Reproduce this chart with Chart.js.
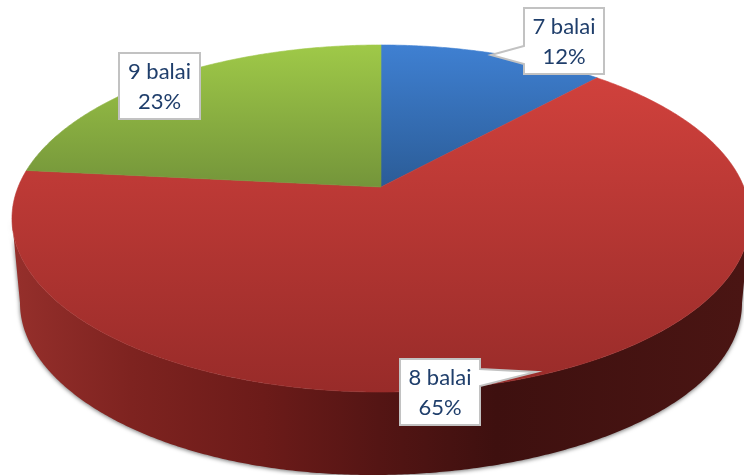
<!DOCTYPE html>
<html>
<head>
<meta charset="utf-8">
<style>
html,body{margin:0;padding:0;background:#fff;overflow:hidden}
canvas{display:block}
</style>
<script src="https://cdn.jsdelivr.net/npm/chart.js@4"></script>
</head>
<body>
<canvas id="c" width="744" height="475"></canvas>
<script>
const categories = ["7 balai", "8 balai", "9 balai"];
// Unrounded shares estimated from the wedge edges; the labels show them rounded
const shares = [11.8, 64.8, 23.4];

// Face colours: [upper, lower] of the vertical gradient across the visible wedge
const faceColours = [["#3f80d2", "#2b5c97"], ["#d0413c", "#982b29"], ["#9fc948", "#74953a"]];

// Perspective projection of the unit disc onto the canvas
const APEX_X = 381, APEX_Y = 187, K = 0.1816, RX = 362.9, RY = 167.8;
const project = (u, v) => {
  const d = 1 - K * v;
  return [APEX_X + RX * u / d, APEX_Y + RY * v / d];
};
// Underside outline
const BASE = { x: 381, y: 303, rx: 361, ry: 172, skew: -8 };

// Callout boxes: rectangle plus optional pointer
const callouts = [
  { i: 0, x: 524, y: 8, w: 80, h: 66, ptr: [[524, 46], [491, 55], [524, 64]] },
  { i: 1, x: 400, y: 359, w: 80, h: 66, ptr: [[480, 369], [536, 372], [480, 386]] },
  { i: 2, x: 119, y: 53, w: 81, h: 66, ptr: null }
];

function tracePoly(ctx, pts) {
  pts.forEach((p, n) => n ? ctx.lineTo(p[0], p[1]) : ctx.moveTo(p[0], p[1]));
}

const pie3d = {
  id: "pie3d",
  beforeDatasetDraw(chart, args) {
    const ctx = chart.ctx;
    const arcs = args.meta.data;
    ctx.save();

    // Side wall: under the base outline, then back along the rim of the top face
    const wall = [];
    for (let a = Math.PI; a >= 0; a -= Math.PI / 360) {
      const t = Math.sin(a);
      wall.push([BASE.x + BASE.rx * Math.cos(a) + BASE.skew * t * t * t * t, BASE.y + BASE.ry * t]);
    }
    for (let a = 0.18; a <= Math.PI - 0.18; a += Math.PI / 360) {
      wall.push(project(Math.cos(a), Math.sin(a)));
    }
    const side = ctx.createLinearGradient(15, 0, 744, 0);
    side.addColorStop(0, "#952f2b");
    side.addColorStop(0.16, "#7e2320");
    side.addColorStop(0.34, "#6c1b19");
    side.addColorStop(0.5, "#541514");
    side.addColorStop(0.66, "#3e100f");
    side.addColorStop(1, "#4a1513");
    ctx.save();
    ctx.shadowColor = "rgba(0,0,0,0.55)";
    ctx.shadowBlur = 4;
    ctx.shadowOffsetX = 0;
    ctx.shadowOffsetY = 1;
    ctx.beginPath();
    tracePoly(ctx, wall);
    ctx.closePath();
    ctx.fillStyle = side;
    ctx.fill();
    ctx.restore();

    // Top faces, from the angles the doughnut controller computed
    arcs.forEach((arc, i) => {
      const { startAngle, endAngle } = arc.getProps(["startAngle", "endAngle"], true);
      const pts = [project(0, 0)];
      const steps = Math.ceil((endAngle - startAngle) / (Math.PI / 360));
      for (let s = 0; s <= steps; s++) {
        const a = startAngle + (endAngle - startAngle) * s / steps;
        pts.push(project(Math.cos(a), Math.sin(a)));
      }
      const ys = pts.map(p => p[1]);
      const top = Math.min(...ys);
      const bot = Math.max(...ys);
      const g = ctx.createLinearGradient(0, top, 0, bot);
      g.addColorStop(0, faceColours[i][0]);
      g.addColorStop(1, faceColours[i][1]);
      ctx.beginPath();
      tracePoly(ctx, pts);
      ctx.closePath();
      ctx.fillStyle = g;
      ctx.strokeStyle = g;
      ctx.lineWidth = 0.6;
      ctx.fill();
      ctx.stroke();
    });
    ctx.restore();
    return false;
  },
  afterDatasetsDraw(chart) {
    const ctx = chart.ctx;
    ctx.save();
    callouts.forEach(c => {
      const pts = [[c.x, c.y], [c.x + c.w, c.y]];
      if (c.ptr && c.ptr[0][0] > c.x) pts.push(...c.ptr);
      pts.push([c.x + c.w, c.y + c.h], [c.x, c.y + c.h]);
      if (c.ptr && c.ptr[0][0] === c.x) pts.push(...c.ptr.slice().reverse());
      ctx.beginPath();
      tracePoly(ctx, pts);
      ctx.closePath();
      ctx.fillStyle = "#ffffff";
      ctx.strokeStyle = "#c2c2c2";
      ctx.lineWidth = 2;
      ctx.lineJoin = "miter";
      ctx.fill();
      ctx.stroke();
      ctx.fillStyle = "#1f3e6b";
      ctx.font = "22px Lato, sans-serif";
      ctx.textAlign = "center";
      ctx.textBaseline = "middle";
      const mid = c.x + c.w / 2;
      ctx.fillText(categories[c.i], mid, c.y + 19);
      ctx.fillText(Math.round(shares[c.i]) + "%", mid, c.y + 49);
    });
    ctx.restore();
  }
};

new Chart(document.getElementById("c"), {
  type: "pie",
  data: {
    labels: categories,
    datasets: [{ data: shares, borderWidth: 0 }]
  },
  options: {
    responsive: false,
    animation: false,
    events: [],
    layout: { padding: 0 },
    plugins: { legend: { display: false }, tooltip: { enabled: false }, title: { display: false } }
  },
  plugins: [pie3d]
});
</script>
</body>
</html>
